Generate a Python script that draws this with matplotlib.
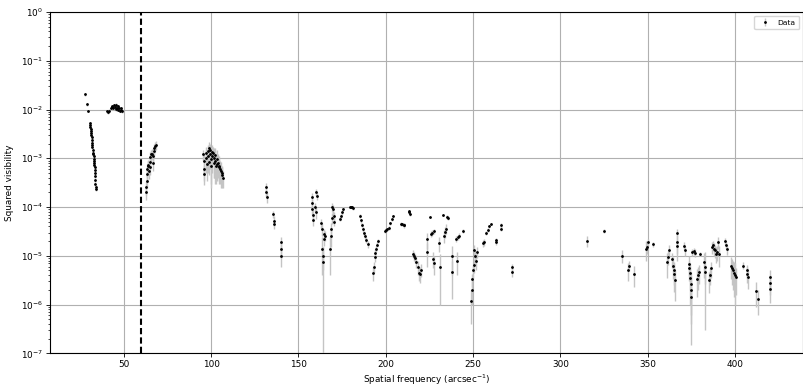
import numpy as np
import matplotlib
matplotlib.use('Agg')
import matplotlib.pyplot as plt

# Short-baseline triangle (27-34 arcsec^-1)
freq_a = [28.1, 28.9, 29.7, 30.6, 30.8, 30.9, 31.0, 31.1, 31.3, 31.4, 31.6, 31.7,
          31.9, 32.0, 32.1, 32.3, 32.4, 32.6, 32.7, 32.9, 33.0, 33.1, 33.2, 33.3,
          33.4, 33.5, 33.6, 33.7, 33.8, 33.9, 34.0]
vis2_a = [0.0205, 0.0128, 0.0095, 0.0053, 0.0048, 0.0044, 0.0040, 0.0036, 0.0033,
          0.0030, 0.0027, 0.0024, 0.0021, 0.0019, 0.0017, 0.0015, 0.0013, 0.0012,
          0.0011, 0.00098, 0.00088, 0.00080, 0.00072, 0.00065, 0.00058, 0.00050,
          0.00043, 0.00036, 0.00030, 0.00026, 0.00023]
err_a = [0.0012, 0.0008, 0.0005, 0.0003, 0.0003, 0.0003, 0.0003, 0.0002, 0.0002,
         0.0002, 0.0002, 0.0002, 0.00015, 0.00012, 0.0001, 0.0001, 0.0001, 0.00008,
         0.00008, 0.00007, 0.00006, 0.00006, 0.00005, 0.00005, 0.00004, 0.00004,
         0.00003, 0.00003, 0.00003, 0.00002, 0.00002]

# Cluster near 0.01
freq_b = [40.2, 40.8, 41.5, 42.5, 43.0, 43.5, 44.0, 44.5, 45.0, 45.3, 45.8, 46.2,
          46.6, 47.0, 47.4, 47.8, 48.2, 48.6, 49.0]
vis2_b = [0.0092, 0.0088, 0.0095, 0.0105, 0.0112, 0.0118, 0.0108, 0.0122, 0.0115,
          0.0102, 0.0125, 0.0110, 0.0098, 0.0118, 0.0105, 0.0095, 0.0108, 0.0100,
          0.0092]
err_b = [0.0006, 0.0006, 0.0006, 0.0007, 0.0007, 0.0008, 0.0007, 0.0008, 0.0008,
         0.0007, 0.0008, 0.0007, 0.0006, 0.0008, 0.0007, 0.0006, 0.0007, 0.0007,
         0.0006]

# 62-68 arcsec^-1
freq_c = [62.8, 63.0, 63.2, 63.4, 63.5, 63.7, 64.0, 64.5, 64.8, 65.0, 65.3, 65.6,
          65.9, 66.5, 67.0, 67.3, 67.6, 67.9, 68.2]
vis2_c = [0.00020, 0.00026, 0.00035, 0.00048, 0.00060, 0.00068, 0.00072, 0.00055,
          0.00065, 0.00085, 0.00105, 0.00120, 0.00125, 0.00080, 0.00110, 0.00140,
          0.00160, 0.00175, 0.00185]
err_c = [0.00006, 0.00008, 0.0001, 0.00015, 0.00018, 0.0002, 0.0002, 0.00018,
         0.0002, 0.00025, 0.0003, 0.0003, 0.0003, 0.00025, 0.0003, 0.00035, 0.0004,
         0.0004, 0.0004]

# 95-107 arcsec^-1
freq_d = [95.5, 95.8, 96.0, 96.2, 97.0, 97.3, 97.6, 98.0, 98.4, 98.7, 99.0, 99.3,
          99.6, 100.0, 100.2, 100.5, 100.8, 101.2, 101.5, 101.8, 102.2, 102.5, 102.8,
          103.2, 103.5, 104.0, 104.4, 104.8, 105.2, 105.6, 106.0, 106.4, 106.8]
vis2_d = [0.00120, 0.00090, 0.00060, 0.00048, 0.00130, 0.00100, 0.00075, 0.00140,
          0.00110, 0.00085, 0.00160, 0.00150, 0.00120, 0.00095, 0.00070, 0.00135,
          0.00110, 0.00130, 0.00100, 0.00080, 0.00115, 0.00090, 0.00070, 0.00095,
          0.00075, 0.00080, 0.00065, 0.00070, 0.00060, 0.00055, 0.00050, 0.00045,
          0.00040]
err_d = [0.0003, 0.0004, 0.00025, 0.0002, 0.0004, 0.0005, 0.0004, 0.0005, 0.0006,
         0.0004, 0.0006, 0.0005, 0.0006, 0.0007, 0.0004, 0.0005, 0.0006, 0.0004,
         0.0006, 0.0004, 0.0005, 0.0006, 0.0004, 0.0005, 0.0004, 0.0004, 0.0003,
         0.0004, 0.0003, 0.0003, 0.0002, 0.0002, 0.00015]

# 131-141 arcsec^-1
freq_e = [131.6, 131.7, 131.8, 135.6, 135.8, 135.9, 140.1, 140.2, 140.3]
vis2_e = [2.6e-4, 2.0e-4, 1.6e-4, 7.2e-5, 5.2e-5, 4.5e-5, 1.9e-5, 1.4e-5, 1.0e-5]
err_e = [5e-5, 4e-5, 4e-5, 1.2e-5, 1.2e-5, 1e-5, 5e-6, 5e-6, 4e-6]

# 157-190 arcsec^-1
freq_f = [157.6, 157.8, 158.0, 158.2, 158.4, 159.7, 159.9, 160.3, 160.5, 163.0,
          163.3, 163.6, 163.8, 164.0, 164.4, 164.8, 165.2, 168.2, 168.5, 168.8,
          169.2, 169.5, 170.0, 170.2, 170.4, 173.6, 174.2, 174.8, 175.4, 179.3,
          180.0, 180.6, 181.2, 185.0, 185.7, 186.4, 187.0, 187.6, 188.2, 188.9,
          189.6]
vis2_f = [1.6e-4, 1.2e-4, 9.0e-5, 7.0e-5, 5.5e-5, 1.0e-4, 7.8e-5, 2.0e-4, 1.7e-4,
          4.8e-5, 3.6e-5, 1.4e-5, 7.5e-6, 1.0e-5, 2.8e-5, 2.2e-5, 2.6e-5, 1.4e-5,
          2.5e-5, 3.6e-5, 6.0e-5, 1.0e-4, 9.0e-5, 6.5e-5, 5.0e-5, 5.7e-5, 6.5e-5,
          7.8e-5, 9.2e-5, 1.0e-4, 1.0e-4, 9.8e-5, 9.4e-5, 6.6e-5, 5.3e-5, 4.3e-5,
          3.5e-5, 2.9e-5, 2.5e-5, 2.1e-5, 1.75e-5]
err_f = [3e-5, 2.5e-5, 2e-5, 1.5e-5, 1.5e-5, 2e-5, 2e-5, 3e-5, 3e-5, 1e-5,
         1e-5, 1e-5, 8e-6, 5e-6, 8e-6, 6e-6, 6e-6, 1e-5, 1e-5, 1e-5,
         1.5e-5, 2e-5, 2e-5, 1.5e-5, 1e-5, 6e-6, 6e-6, 8e-6, 8e-6, 6e-6,
         6e-6, 6e-6, 6e-6, 5e-6, 5e-6, 4e-6, 4e-6, 3e-6, 3e-6, 3e-6,
         3e-6]

# 192-273 arcsec^-1
freq_g = [192.6, 193.0, 193.6, 194.0, 194.5, 195.0, 195.5, 199.3, 200.2, 201.0,
          201.8, 202.6, 203.3, 204.0, 208.9, 209.5, 210.2, 210.7, 213.2, 213.6,
          213.9, 215.5, 216.0, 216.6, 217.4, 218.2, 219.0, 219.6, 220.0, 223.5,
          223.6, 225.4, 226.0, 226.6, 227.0, 227.4, 227.9, 230.4, 230.8, 232.7,
          233.6, 234.1, 234.6, 235.0, 235.4, 238.0, 238.1, 240.3, 240.9, 241.2,
          242.2, 244.1, 249.0, 249.2, 249.5, 249.8, 250.3, 250.6, 251.2, 251.9,
          252.2, 255.6, 256.5, 257.5, 258.5, 259.4, 260.3, 263.2, 263.4, 266.0,
          266.2, 272.3, 272.4]
vis2_g = [4.5e-6, 6.0e-6, 9.4e-6, 1.15e-5, 1.4e-5, 1.7e-5, 2.0e-5, 3.2e-5, 3.4e-5,
          3.5e-5, 3.7e-5, 4.6e-5, 5.6e-5, 6.6e-5, 4.5e-5, 4.4e-5, 4.3e-5, 4.2e-5,
          8.4e-5, 7.8e-5, 7.2e-5, 1.1e-5, 1.0e-5, 9.0e-6, 7.5e-6, 6.0e-6, 4.5e-6,
          4.3e-6, 5.2e-6, 2.2e-5, 1.2e-5, 6.3e-5, 2.8e-5, 3.0e-5, 8.7e-6, 7.0e-6,
          3.2e-5, 1.8e-5, 6.0e-6, 6.9e-5, 2.6e-5, 3.1e-5, 3.6e-5, 6.3e-5, 6.0e-5,
          1.0e-5, 4.6e-6, 2.2e-5, 8.0e-6, 2.4e-5, 2.6e-5, 3.2e-5, 1.2e-6, 2.0e-6,
          3.3e-6, 5.0e-6, 6.5e-6, 1.3e-5, 1.0e-5, 8.0e-6, 1.2e-5, 1.8e-5, 1.9e-5,
          3.0e-5, 3.4e-5, 4.0e-5, 4.5e-5, 1.9e-5, 2.1e-5, 4.2e-5, 3.6e-5, 5.9e-6,
          4.6e-6]
err_g = [1.5e-6, 1.5e-6, 2e-6, 2e-6, 2e-6, 2e-6, 2e-6, 3e-6, 3e-6, 3e-6,
         3e-6, 4e-6, 4e-6, 4e-6, 4e-6, 4e-6, 4e-6, 4e-6, 5e-6, 5e-6,
         5e-6, 2e-6, 2e-6, 2e-6, 2e-6, 2e-6, 1.5e-6, 1.5e-6, 1.5e-6, 8e-6,
         6e-6, 4e-6, 4e-6, 4e-6, 3e-6, 3e-6, 4e-6, 6e-6, 5e-6, 4e-6,
         8e-6, 8e-6, 8e-6, 5e-6, 5e-6, 6e-6, 3.3e-6, 3e-6, 4e-6, 3e-6,
         3e-6, 3e-6, 8e-7, 1e-6, 1e-6, 1.5e-6, 2e-6, 4e-6, 3e-6, 3e-6,
         3e-6, 3e-6, 3e-6, 3e-6, 3e-6, 3e-6, 3e-6, 2e-6, 2e-6, 4e-6,
         4e-6, 1e-6, 1e-6]

# 315-420 arcsec^-1
freq_h = [315.1, 324.8, 335.3, 338.5, 339.5, 342.3, 349.0, 349.4, 350.3, 352.8,
          360.8, 361.6, 362.0, 363.8, 364.2, 364.8, 365.2, 365.8, 366.5, 366.7,
          367.0, 370.5, 371.1, 373.4, 373.6, 374.0, 374.3, 374.5, 374.7, 374.9,
          375.6, 376.3, 377.0, 378.0, 378.6, 379.2, 380.1, 382.4, 382.7, 383.0,
          384.8, 385.4, 386.2, 386.8, 387.4, 387.8, 388.4, 389.1, 389.8, 390.4,
          391.0, 394.4, 394.8, 395.1, 397.6, 398.2, 398.8, 399.4, 400.0, 400.5,
          404.8, 406.6, 406.9, 407.2, 412.0, 413.3, 419.8, 420.0, 420.1]
vis2_h = [2.0e-5, 3.3e-5, 1.0e-5, 5.0e-6, 6.3e-6, 4.3e-6, 1.4e-5, 1.5e-5, 1.9e-5,
          1.75e-5, 7.5e-6, 9.4e-6, 1.3e-5, 8.5e-6, 6.3e-6, 5.0e-6, 4.3e-6, 3.2e-6,
          3.0e-5, 1.9e-5, 1.6e-5, 1.6e-5, 1.3e-5, 6.8e-6, 5.5e-6, 4.5e-6, 3.5e-6,
          2.6e-6, 2.0e-6, 1.4e-6, 1.2e-5, 1.25e-5, 1.15e-5, 3.4e-6, 4.0e-6, 4.6e-6,
          1.1e-5, 7.5e-6, 6.0e-6, 4.6e-6, 3.2e-6, 4.0e-6, 5.5e-6, 1.5e-5, 1.65e-5,
          1.4e-5, 1.3e-5, 1.1e-5, 1.2e-5, 1.9e-5, 1.1e-5, 2.0e-5, 1.7e-5, 1.35e-5,
          6.3e-6, 5.5e-6, 5.0e-6, 4.4e-6, 4.0e-6, 3.6e-6, 6.3e-6, 5.0e-6, 4.3e-6,
          3.6e-6, 1.9e-6, 1.3e-6, 2.1e-6, 2.8e-6, 3.7e-6]
err_h = [5e-6, 3e-6, 3e-6, 2e-6, 1.5e-6, 2e-6, 6e-6, 4e-6, 3e-6, 2e-6,
         4e-6, 3e-6, 4e-6, 3e-6, 3e-6, 2.5e-6, 2.5e-6, 2e-6, 6e-6, 8e-6,
         8e-6, 3e-6, 3e-6, 3e-6, 2.5e-6, 2.5e-6, 2.5e-6, 2e-6, 1.85e-6, 1e-6,
         2e-6, 2e-6, 2e-6, 2e-6, 2e-6, 2e-6, 1e-6, 4e-6, 5.7e-6, 2e-6,
         1.5e-6, 1.5e-6, 2e-6, 4e-6, 4e-6, 4e-6, 4e-6, 4e-6, 4e-6, 5e-6,
         5e-6, 3e-6, 3e-6, 3e-6, 3e-6, 3e-6, 3e-6, 3e-6, 3e-6, 2e-6,
         1e-6, 1.5e-6, 1.5e-6, 1.5e-6, 1e-6, 0.7e-6, 1e-6, 1.2e-6, 1.5e-6]

cutoff_freq = 60

freq = np.concatenate([freq_a, freq_b, freq_c, freq_d, freq_e, freq_f, freq_g, freq_h])
vis2 = np.concatenate([vis2_a, vis2_b, vis2_c, vis2_d, vis2_e, vis2_f, vis2_g, vis2_h])
vis2_err = np.concatenate([err_a, err_b, err_c, err_d, err_e, err_f, err_g, err_h])

fig = plt.figure(figsize=(8.04, 3.87), dpi=100)
ax = fig.add_axes([0.062, 0.087, 0.937, 0.882])

ax.errorbar(freq, vis2, yerr=vis2_err, fmt='o', color='black', markersize=1.0,
            ecolor='#c4c4c4', elinewidth=1.0, capsize=0, label='Data', zorder=3)
ax.axvline(cutoff_freq, color='black', linestyle='--', linewidth=1.5,
           dashes=(3, 1.5), zorder=4)

ax.set_yscale('log')
ax.set_ylim(1e-7, 1)
ax.set_xlim(7.7, 439)
ax.grid(True, color='#b0b0b0', linewidth=0.8)
ax.set_axisbelow(True)

ax.set_xlabel('Spatial frequency (arcsec$^{-1}$)', fontsize=6.4, labelpad=2)
ax.set_ylabel('Squared visibility', fontsize=6.4, labelpad=5)
ax.tick_params(which='major', labelsize=6.4, length=2.6, width=0.6, pad=2.5)
ax.tick_params(which='minor', length=1.5, width=0.5)
for s in ax.spines.values():
    s.set_linewidth(0.8)
ax.legend(loc='upper right', fontsize=5.4, borderpad=0.5, handlelength=1.8)

plt.savefig('out.png', dpi=100)
plt.close()
